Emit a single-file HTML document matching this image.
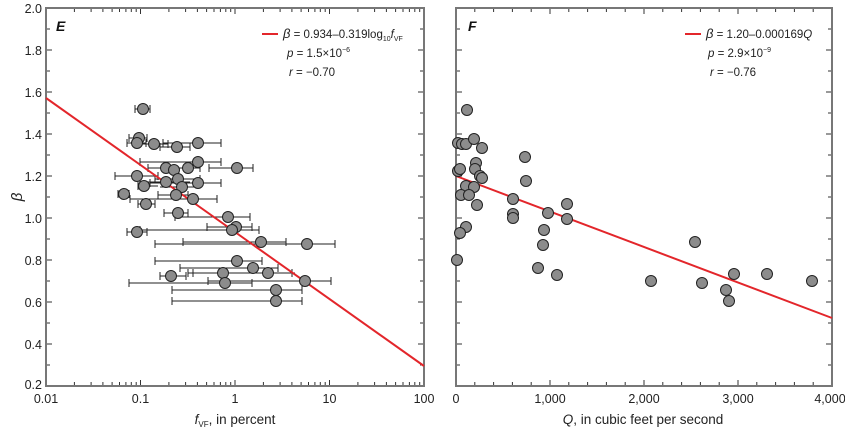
<!DOCTYPE html>
<html><head><meta charset="utf-8"><style>
html,body{margin:0;padding:0;background:#fff}
svg{display:block;font-family:"Liberation Sans",Arial,sans-serif}
</style></head><body>
<svg width="845" height="434" viewBox="0 0 845 434" xmlns="http://www.w3.org/2000/svg">
<g stroke="#333" stroke-width="1" fill="none">
<!-- left panel ticks -->
<path d="M46 8h6M46 50h6M46 92h6M46 134h6M46 176h6M46 218h6M46 260h6M46 302h6M46 344h6M46 386h6
M46 29h4M46 71h4M46 113h4M46 155h4M46 197h4M46 239h4M46 281h4M46 323h4M46 365h4
M424 50h-6M424 92h-6M424 134h-6M424 176h-6M424 218h-6M424 260h-6M424 302h-6M424 344h-6
M424 29h-4M424 71h-4M424 113h-4M424 155h-4M424 197h-4M424 239h-4M424 281h-4M424 323h-4M424 365h-4"/>
<path d="M140.5 386v-6M235 386v-6M329.5 386v-6M140.5 8v6M235 8v6M329.5 8v6"/>
<path d="M74.4 386v-4M91.1 386v-4M102.9 386v-4M112.1 386v-4M119.5 386v-4M125.9 386v-4M131.3 386v-4M136.2 386v-4
M168.9 386v-4M185.6 386v-4M197.4 386v-4M206.6 386v-4M214 386v-4M220.4 386v-4M225.8 386v-4M230.7 386v-4
M263.4 386v-4M280.1 386v-4M291.9 386v-4M301.1 386v-4M308.5 386v-4M314.9 386v-4M320.3 386v-4M325.2 386v-4
M357.9 386v-4M374.6 386v-4M386.4 386v-4M395.6 386v-4M403 386v-4M409.4 386v-4M414.8 386v-4M419.7 386v-4
M74.4 8v4M91.1 8v4M102.9 8v4M112.1 8v4M119.5 8v4M125.9 8v4M131.3 8v4M136.2 8v4
M168.9 8v4M185.6 8v4M197.4 8v4M206.6 8v4M214 8v4M220.4 8v4M225.8 8v4M230.7 8v4
M263.4 8v4M280.1 8v4M291.9 8v4M301.1 8v4M308.5 8v4M314.9 8v4M320.3 8v4M325.2 8v4
M357.9 8v4M374.6 8v4M386.4 8v4M395.6 8v4M403 8v4M409.4 8v4M414.8 8v4M419.7 8v4"/>
<!-- right panel ticks -->
<path d="M456 50h6M456 92h6M456 134h6M456 176h6M456 218h6M456 260h6M456 302h6M456 344h6
M456 29h4M456 71h4M456 113h4M456 155h4M456 197h4M456 239h4M456 281h4M456 323h4M456 365h4
M832 50h-6M832 92h-6M832 134h-6M832 176h-6M832 218h-6M832 260h-6M832 302h-6M832 344h-6
M832 29h-4M832 71h-4M832 113h-4M832 155h-4M832 197h-4M832 239h-4M832 281h-4M832 323h-4M832 365h-4"/>
<path d="M550 386v-6M644 386v-6M738 386v-6M550 8v6M644 8v6M738 8v6
M474.8 386v-4M493.6 386v-4M512.4 386v-4M531.2 386v-4M568.8 386v-4M587.6 386v-4M606.4 386v-4M625.2 386v-4M662.8 386v-4M681.6 386v-4M700.4 386v-4M719.2 386v-4M756.8 386v-4M775.6 386v-4M794.4 386v-4M813.2 386v-4
M474.8 8v4M493.6 8v4M512.4 8v4M531.2 8v4M568.8 8v4M587.6 8v4M606.4 8v4M625.2 8v4M662.8 8v4M681.6 8v4M700.4 8v4M719.2 8v4M756.8 8v4M775.6 8v4M794.4 8v4M813.2 8v4"/>
</g>
<!-- frames -->
<rect x="46" y="8" width="378" height="378" fill="none" stroke="#777" stroke-width="2"/>
<rect x="456" y="8" width="376" height="378" fill="none" stroke="#777" stroke-width="2"/>

<!-- left error bars -->
<g stroke="#222" stroke-width="1" fill="none">
<path d="M135 109H150M135 105v8M150 105v8
M129 138H147M129 134v8M147 134v8
M127 143H146M127 139v8M146 139v8
M140 144H168M140 140v8M168 140v8
M160 147H190M160 143v8M190 143v8
M163 143H221M163 139v8M221 139v8
M140 162H221M140 158v8M221 158v8
M148 168H200M148 164v8M200 164v8
M209 168H253M209 164v8M253 164v8
M115 176H158M115 172v8M158 172v8
M155 179H200M155 175v8M200 175v8
M140 182H190M140 178v8
M150 183H221M150 179v8M221 179v8
M138 186H158M138 182v8
M160 187H200
M118 194H129M118 190v8M129 190v8
M158 195H188M158 191v8M188 191v8
M130 199H217M130 195v8M217 195v8
M138 204H155M138 200v8M155 200v8
M164 213H188M164 209v8M188 209v8
M175 217H250M175 213v8M250 213v8
M207 227H252M207 223v8M252 223v8
M140 230H259M140 226v8M259 226v8
M127 232H147M127 228v8M147 228v8
M183 242H286M183 238v8M286 238v8
M155 244H335M155 240v8M335 240v8
M155 261H262M155 257v8M262 257v8
M180 268H278M180 264v8M278 264v8
M188 273H292M188 269v8M292 269v8
M193 273H295M193 269v8
M160 276H186M160 272v8M186 272v8
M208 281H331M208 277v8M331 277v8
M129 283H252M129 279v8M252 279v8
M172 290H302M172 286v8M302 286v8
M172 301H302M172 297v8M302 297v8"/>
</g>
<!-- red lines -->
<line x1="46" y1="98" x2="424" y2="366" stroke="#e3262b" stroke-width="2"/>
<line x1="456" y1="176" x2="832" y2="318" stroke="#e3262b" stroke-width="2"/>

<!-- left points -->
<g fill="#8c8c8c" stroke="#222" stroke-width="1">
<circle cx="143" cy="109" r="5.5"/><circle cx="139" cy="138" r="5.5"/><circle cx="137" cy="143" r="5.5"/>
<circle cx="154" cy="144" r="5.5"/><circle cx="177" cy="147" r="5.5"/><circle cx="198" cy="143" r="5.5"/>
<circle cx="198" cy="162" r="5.5"/><circle cx="166" cy="168" r="5.5"/><circle cx="174" cy="170" r="5.5"/>
<circle cx="188" cy="168" r="5.5"/><circle cx="237" cy="168" r="5.5"/><circle cx="137" cy="176" r="5.5"/>
<circle cx="178" cy="179" r="5.5"/><circle cx="166" cy="182" r="5.5"/><circle cx="198" cy="183" r="5.5"/>
<circle cx="144" cy="186" r="5.5"/><circle cx="182" cy="187" r="5.5"/><circle cx="124" cy="194" r="5.5"/>
<circle cx="176" cy="195" r="5.5"/><circle cx="193" cy="199" r="5.5"/><circle cx="146" cy="204" r="5.5"/>
<circle cx="178" cy="213" r="5.5"/><circle cx="228" cy="217" r="5.5"/><circle cx="236" cy="227" r="5.5"/>
<circle cx="232" cy="230" r="5.5"/><circle cx="137" cy="232" r="5.5"/><circle cx="261" cy="242" r="5.5"/>
<circle cx="307" cy="244" r="5.5"/><circle cx="237" cy="261" r="5.5"/><circle cx="253" cy="268" r="5.5"/>
<circle cx="223" cy="273" r="5.5"/><circle cx="268" cy="273" r="5.5"/><circle cx="171" cy="276" r="5.5"/>
<circle cx="305" cy="281" r="5.5"/><circle cx="225" cy="283" r="5.5"/><circle cx="276" cy="290" r="5.5"/>
<circle cx="276" cy="301" r="5.5"/>
</g>
<!-- right points -->
<g fill="#8c8c8c" stroke="#222" stroke-width="1">
<circle cx="467" cy="110" r="5.5"/><circle cx="458" cy="143" r="5.5"/><circle cx="462" cy="144" r="5.5"/>
<circle cx="466" cy="144" r="5.5"/><circle cx="474" cy="139" r="5.5"/><circle cx="482" cy="148" r="5.5"/>
<circle cx="525" cy="157" r="5.5"/><circle cx="476" cy="163" r="5.5"/><circle cx="475" cy="169" r="5.5"/>
<circle cx="458" cy="171" r="5.5"/><circle cx="460" cy="169" r="5.5"/><circle cx="480" cy="176" r="5.5"/>
<circle cx="482" cy="178" r="5.5"/><circle cx="526" cy="181" r="5.5"/><circle cx="466" cy="186" r="5.5"/>
<circle cx="474" cy="187" r="5.5"/><circle cx="461" cy="195" r="5.5"/><circle cx="469" cy="195" r="5.5"/>
<circle cx="477" cy="205" r="5.5"/><circle cx="513" cy="199" r="5.5"/><circle cx="513" cy="214" r="5.5"/>
<circle cx="513" cy="218" r="5.5"/><circle cx="548" cy="213" r="5.5"/><circle cx="567" cy="204" r="5.5"/>
<circle cx="567" cy="219" r="5.5"/><circle cx="466" cy="227" r="5.5"/><circle cx="460" cy="233" r="5.5"/>
<circle cx="544" cy="230" r="5.5"/><circle cx="543" cy="245" r="5.5"/><circle cx="457" cy="260" r="5.5"/>
<circle cx="538" cy="268" r="5.5"/><circle cx="557" cy="275" r="5.5"/>
<circle cx="695" cy="242" r="5.5"/><circle cx="651" cy="281" r="5.5"/><circle cx="702" cy="283" r="5.5"/>
<circle cx="726" cy="290" r="5.5"/><circle cx="729" cy="301" r="5.5"/><circle cx="734" cy="274" r="5.5"/>
<circle cx="767" cy="274" r="5.5"/><circle cx="812" cy="281" r="5.5"/>
</g>

<!-- axis labels -->
<g font-size="12.5" fill="#222" text-anchor="end">
<text x="42" y="13">2.0</text><text x="42" y="55">1.8</text><text x="42" y="97">1.6</text>
<text x="42" y="139">1.4</text><text x="42" y="181">1.2</text><text x="42" y="223">1.0</text>
<text x="42" y="265">0.8</text><text x="42" y="307">0.6</text><text x="42" y="349">0.4</text>
<text x="42" y="389">0.2</text>
</g>
<g font-size="12.5" fill="#222" text-anchor="middle">
<text x="46" y="403">0.01</text><text x="140.5" y="403">0.1</text><text x="235" y="403">1</text>
<text x="329.5" y="403">10</text><text x="424" y="403">100</text>
<text x="456" y="403">0</text><text x="550" y="403">1,000</text><text x="644" y="403">2,000</text>
<text x="738" y="403">3,000</text><text x="830" y="403">4,000</text>
</g>
<text x="235" y="424" font-size="13.5" fill="#222" text-anchor="middle"><tspan font-style="italic">f</tspan><tspan font-size="8" dy="3">VF</tspan><tspan dy="-3">, in percent</tspan></text>
<text x="643" y="424" font-size="13.5" fill="#222" text-anchor="middle"><tspan font-style="italic">Q</tspan>, in cubic feet per second</text>
<text transform="translate(22,197) rotate(-90)" font-size="15" font-style="italic" fill="#222" text-anchor="middle">β</text>

<!-- panel letters -->
<text x="56" y="31" font-size="14" font-weight="bold" font-style="italic" fill="#111">E</text>
<text x="468" y="31" font-size="14" font-weight="bold" font-style="italic" fill="#111">F</text>

<!-- legends -->
<line x1="262" y1="34" x2="278" y2="34" stroke="#e3262b" stroke-width="2"/>
<text x="283" y="38" font-size="11.5" fill="#222"><tspan font-style="italic" font-size="13">β</tspan> = 0.934–0.319log<tspan font-size="7" dy="3">10</tspan><tspan dy="-3" font-style="italic">f</tspan><tspan font-size="7" dy="3">VF</tspan></text>
<text x="287" y="57" font-size="11.5" fill="#222"><tspan font-style="italic">p</tspan> = 1.5×10<tspan font-size="7" dy="-5">−6</tspan></text>
<text x="289" y="76" font-size="11.5" fill="#222"><tspan font-style="italic">r</tspan> = −0.70</text>

<line x1="685" y1="34" x2="701" y2="34" stroke="#e3262b" stroke-width="2"/>
<text x="706" y="38" font-size="11.5" fill="#222"><tspan font-style="italic" font-size="13">β</tspan> = 1.20–0.000169<tspan font-style="italic">Q</tspan></text>
<text x="708" y="57" font-size="11.5" fill="#222"><tspan font-style="italic">p</tspan> = 2.9×10<tspan font-size="7" dy="-5">−9</tspan></text>
<text x="710" y="76" font-size="11.5" fill="#222"><tspan font-style="italic">r</tspan> = −0.76</text>
</svg>
</body></html>
